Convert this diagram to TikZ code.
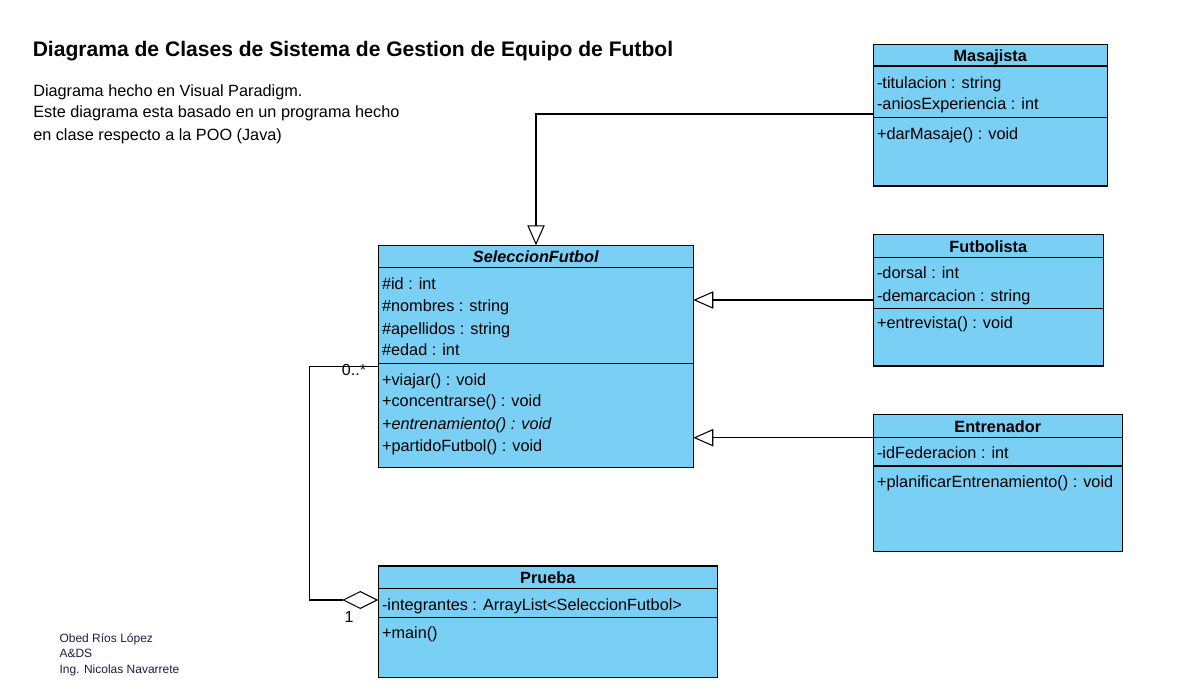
\documentclass[tikz,border=0pt]{standalone}
\usepackage{fontspec}
\setmainfont{Liberation Sans}
\usetikzlibrary{arrows.meta}
\definecolor{clsfill}{RGB}{122,207,245}
\definecolor{footc}{RGB}{30,30,70}
\newcommand\umlbox[5]{\node[cls, minimum width={(#4-#2)*0.75pt}, minimum height={(#5-#3)*0.75pt}] (#1) at (#2,#3) {};}
\begin{document}
\begin{tikzpicture}[x=0.75pt,y=-0.75pt,
 cls/.style={draw=black, fill=clsfill, line width=0.8pt, anchor=north west, inner sep=0pt, outer sep=0pt},
 txt/.style={anchor=base west, inner sep=0pt, font=\fontsize{12.2}{14}\selectfont},
 ttl/.style={anchor=base, inner sep=0pt, font=\fontsize{12.2}{14}\selectfont\bfseries},
 gen/.style={-{Triangle[open,length=15pt,width=13pt]}, line width=0.8pt},
 agg/.style={{Diamond[open,length=27pt,width=13.5pt]}-, line width=0.8pt},
 dv/.style={line width=0.8pt},
 lbl/.style={anchor=base west, inner sep=0pt, font=\fontsize{12}{14}\selectfont},
 foot/.style={anchor=base west, inner sep=0pt, text=footc, font=\fontsize{9}{11}\selectfont}]
\useasboundingbox[fill=white] (0,0) rectangle (1180,694);

% header texts
\node[anchor=base west, inner sep=0pt, font=\fontsize{15.8}{18}\selectfont\bfseries] (title) at (32.5,56) {Diagrama de Clases de Sistema de Gestion de Equipo de Futbol};
\node[txt] (d1) at (33,96) {Diagrama hecho en Visual Paradigm.};
\node[txt] (d2) at (33,117.5) {Este diagrama esta basado en un programa hecho};
\node[txt] (d3) at (33,140) {en clase respecto a la POO (Java)};

% footer
\node[foot] (f1) at (59.3,642.7) {Obed Ríos López};
\node[foot] (f2) at (59.3,657.7) {A\&DS};
\node[foot] (f3) at (59.3,673) {Ing. Nicolas Navarrete};

% SeleccionFutbol
\umlbox{SF}{378.3}{245.3}{693.3}{467.7}
\draw[dv] (378.3,267.3) -- (693.3,267.3);
\draw[dv] (378.3,363.3) -- (693.3,363.3);
\node[ttl, font=\fontsize{12.2}{14}\selectfont\bfseries\itshape] (sft) at (535.8,262.7) {SeleccionFutbol};
\node[txt] (sfa1) at (381.8,289.3) {\#id : int};
\node[txt] (sfa2) at (381.8,311) {\#nombres : string};
\node[txt] (sfa3) at (381.8,334) {\#apellidos : string};
\node[txt] (sfa4) at (381.8,355.7) {\#edad : int};
\node[txt] (sfm1) at (381.8,385) {+viajar() : void};
\node[txt] (sfm2) at (381.8,406.7) {+concentrarse() : void};
\node[txt, font=\fontsize{12.2}{14}\selectfont\itshape] (sfm3) at (381.8,429.3) {+entrenamiento() : void};
\node[txt] (sfm4) at (381.8,451.7) {+partidoFutbol() : void};

% Masajista
\umlbox{Mas}{873.3}{44.3}{1107.3}{186}
\draw[dv] (873.3,66) -- (1107.3,66);
\draw[dv] (873.3,117.7) -- (1107.3,117.7);
\node[ttl] (mast) at (990.3,61.5) {Masajista};
\node[txt] (masa1) at (876.8,88.3) {-titulacion : string};
\node[txt] (masa2) at (876.8,109.3) {-aniosExperiencia : int};
\node[txt] (masm1) at (876.8,139.3) {+darMasaje() : void};

% Futbolista
\umlbox{Fut}{873.3}{234.3}{1103.3}{366}
\draw[dv] (873.3,257.7) -- (1103.3,257.7);
\draw[dv] (873.3,308.3) -- (1103.3,308.3);
\node[ttl] (futt) at (988.3,252.3) {Futbolista};
\node[txt] (futa1) at (876.8,278.3) {-dorsal : int};
\node[txt] (futa2) at (876.8,301) {-demarcacion : string};
\node[txt] (futm1) at (876.8,328.3) {+entrevista() : void};

% Entrenador
\umlbox{Ent}{873.3}{414.3}{1122.3}{551.7}
\draw[dv] (873.3,437.7) -- (1122.3,437.7);
\draw[dv] (873.3,466) -- (1122.3,466);
\node[ttl] (entt) at (997.8,432.3) {Entrenador};
\node[txt] (enta1) at (876.8,458.3) {-idFederacion : int};
\node[txt] (entm1) at (876.8,487.3) {+planificarEntrenamiento() : void};

% Prueba
\umlbox{Pru}{378.3}{566}{717.3}{677.3}
\draw[dv] (378.3,588.3) -- (717.3,588.3);
\draw[dv] (378.3,617.7) -- (717.3,617.7);
\node[ttl] (prut) at (547.8,583.3) {Prueba};
\node[txt] (prua1) at (381.8,610) {-integrantes : ArrayList<SeleccionFutbol>};
\node[txt] (prum1) at (381.8,638.3) {+main()};

% connectors
\coordinate (m1) at (536,114);
\draw[gen] (Mas.west |- m1) -- (m1) -- (m1 |- SF.north);
\coordinate (fc) at (0,300);
\draw[gen] (Fut.west |- fc) -- (SF.east |- fc);
\coordinate (ec) at (0,437.7);
\draw[gen] (Ent.west |- ec) -- (SF.east |- ec);
\coordinate (a1) at (309.3,366.7);
\coordinate (a2) at (309.3,600);
\draw[agg] (Pru.west |- a2) -- (a2) -- (a1) -- (SF.west |- a1);
\node[lbl] (lmany) at (341.7,375.7) {0..*};
\node[lbl] (lone) at (344.3,622.7) {1};
\end{tikzpicture}
\end{document}
